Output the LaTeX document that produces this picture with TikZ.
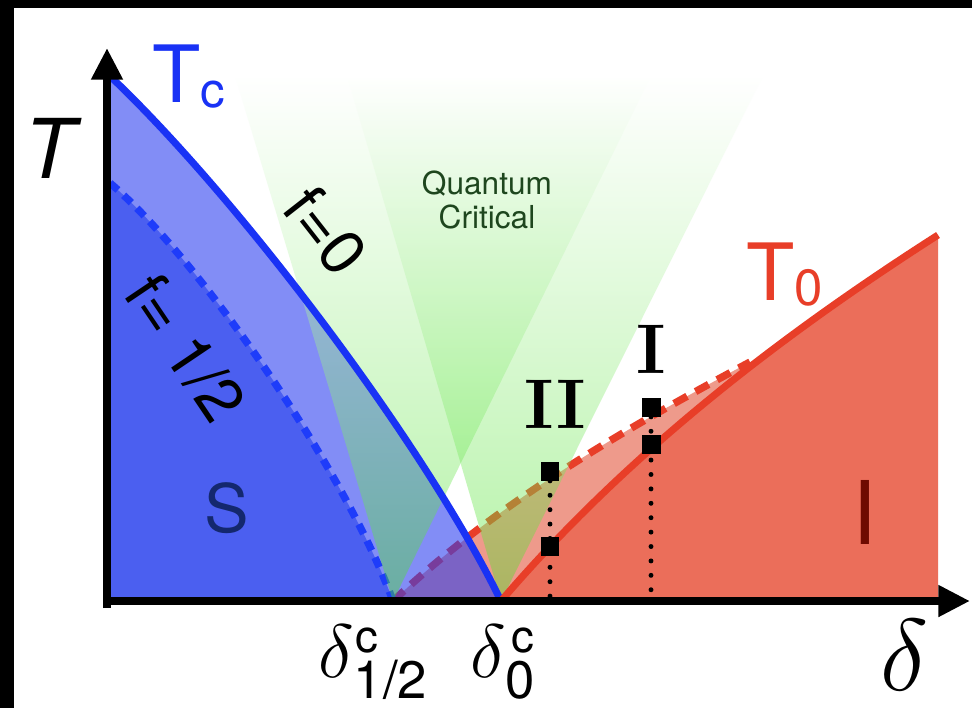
\RequirePackage{fix-cm}
\documentclass[tikz,border=0pt]{standalone}
\usepackage{amsmath}
\usepackage{fontspec}
\usepackage{tikz}
\usetikzlibrary{arrows.meta}
\newfontfamily\helv{TeX Gyre Heros}
\definecolor{tcblue}{RGB}{25,50,245}
\definecolor{sblue}{RGB}{75,95,240}
\definecolor{fblue}{RGB}{40,60,240}
\definecolor{dblue}{RGB}{30,60,250}
\definecolor{pinkred}{RGB}{238,154,139}
\definecolor{tored}{RGB}{235,110,90}
\definecolor{tolinered}{RGB}{232,62,40}
\definecolor{qcgreen}{RGB}{70,225,35}
\definecolor{stext}{RGB}{20,40,110}
\definecolor{itext}{RGB}{110,10,0}
\definecolor{qctext}{RGB}{30,70,30}
\tikzset{
  tcpath/.style={insert path={-- (112,78) .. controls (240,200) and (425,445) .. (501,601)}},
  halfpath/.style={insert path={-- (110,183) .. controls (200,260) and (345,470) .. (393,601)}},
  tzpath/.style={insert path={-- (501,601) .. controls (631,449) and (788,331) .. (938,235)}},
  tzdashpath/.style={insert path={-- (393,601) .. controls (503,497) and (640,421) .. (750,362)}}
}

\begin{document}
\begin{tikzpicture}[x=0.02cm, y=-0.02cm,
  lbl/.style={inner sep=0pt},
  sqr/.style={fill=black, minimum size=10.8pt, inner sep=0pt},
  dotln/.style={line width=2.8pt, line cap=round, dash pattern=on 0pt off 8.2pt},
  fan/.style={top color=white, middle color=qcgreen!85!white, bottom color=qcgreen, fill opacity=0.4},
  axisln/.style={line width=4.6pt, -{Triangle[length=18pt,width=17pt]}}]
  % frame
  \useasboundingbox (0,0) rectangle (972,708);
  \fill[white] (0,0) rectangle (972,708);
  \fill[black] (0,0) rectangle (972,8);
  \fill[black] (0,0) rectangle (14,708);
  % T0 side
  \fill[pinkred] (393,601) [tzdashpath] -- (938,601) -- cycle;
  \fill[tored] (501,601) [tzpath] -- (938,601) -- cycle;
  \draw[tolinered, line width=4.2pt, dash pattern=on 8.5pt off 5.5pt] (393,601) [tzdashpath];
  % Tc side
  \fill[fblue, fill opacity=0.58] (107,601) -- (107,78) [tcpath] -- cycle;
  \fill[sblue] (107,601) -- (107,183) [halfpath] -- cycle;
  \draw[dblue, line width=4.2pt, dash pattern=on 6pt off 4.5pt] (110,183) [halfpath];
  % quantum critical fans
  \shade[fan] (393,601) -- (235,76) -- (651,76) -- cycle;
  \shade[fan] (501,601) -- (347,76) -- (763,76) -- cycle;
  \draw[tcblue, line width=4pt] (112,78) [tcpath];
  \draw[tolinered, line width=4pt] (501,601) [tzpath];
  % axes
  \draw[axisln] (107,608) -- (107,48);
  \draw[axisln] (103,601) -- (970,601);
  % points I and II
  \node[sqr] (IIup) at (550,471) {};
  \node[sqr] (IIlow) at (550,546) {};
  \node[sqr] (Iup) at (651,407) {};
  \node[sqr] (Ilow) at (651,444) {};
  \coordinate (IIfoot) at (550,597);
  \coordinate (Ifoot) at (651,597);
  \draw[dotln] (IIup) -- (IIfoot);
  \draw[dotln] (Iup) -- (Ifoot);
  \node[lbl, font=\bfseries\fontsize{40}{40}\selectfont] (ptII) at (555,404) {II};
  \node[lbl, font=\bfseries\fontsize{40}{40}\selectfont] (ptI) at (651,349) {I};
  % labels
  \node[lbl, anchor=base, font=\helv\itshape\fontsize{47}{47}\selectfont] (Tlab) at (50,178) {T};
  \node[lbl, anchor=base west, text=tcblue, font=\helv\fontsize{45}{45}\selectfont] (Tclab) at (152,102)
    {T\raisebox{-3.4pt}{\fontsize{28}{28}\selectfont c}};
  \node[lbl, anchor=base west, text=tolinered, font=\helv\fontsize{45}{45}\selectfont] (T0lab) at (746,300)
    {T\raisebox{-3pt}{\fontsize{29}{29}\selectfont 0}};
  \node[lbl, rotate=-52, font=\helv\fontsize{36}{36}\selectfont] (fzero) at (326,231) {f=0};
  \node[lbl, rotate=-56, font=\helv\fontsize{36}{36}\selectfont] (fhalf) at (186,348) {f= 1/2};
  \node[lbl, align=center, text=qctext, font=\helv\fontsize{18}{19.5}\selectfont] (qc) at (487,200) {Quantum\\Critical};
  \node[lbl, text=stext, font=\helv\fontsize{38}{38}\selectfont] (Slab) at (227,508) {S};
  \node[lbl, text=itext, font=\helv\fontsize{50}{50}\selectfont] (Ilab) at (865,512) {I};
  \node[lbl, anchor=base west, font=\fontsize{43}{43}\selectfont] (dhalf) at (318,677)
    {$\delta$\rlap{\kern1pt\raisebox{14pt}{\helv\fontsize{26}{26}\selectfont c}}\raisebox{-12pt}{\helv\fontsize{30}{30}\selectfont 1/2}};
  \node[lbl, anchor=base west, font=\fontsize{43}{43}\selectfont] (dzero) at (470,677)
    {$\delta$\rlap{\kern3pt\raisebox{14pt}{\helv\fontsize{26}{26}\selectfont c}}\raisebox{-12pt}{\helv\fontsize{30}{30}\selectfont 0}};
  \node[lbl, font=\fontsize{58}{58}\selectfont] (dlab) at (904,655) {$\delta$};
\end{tikzpicture}
\end{document}
